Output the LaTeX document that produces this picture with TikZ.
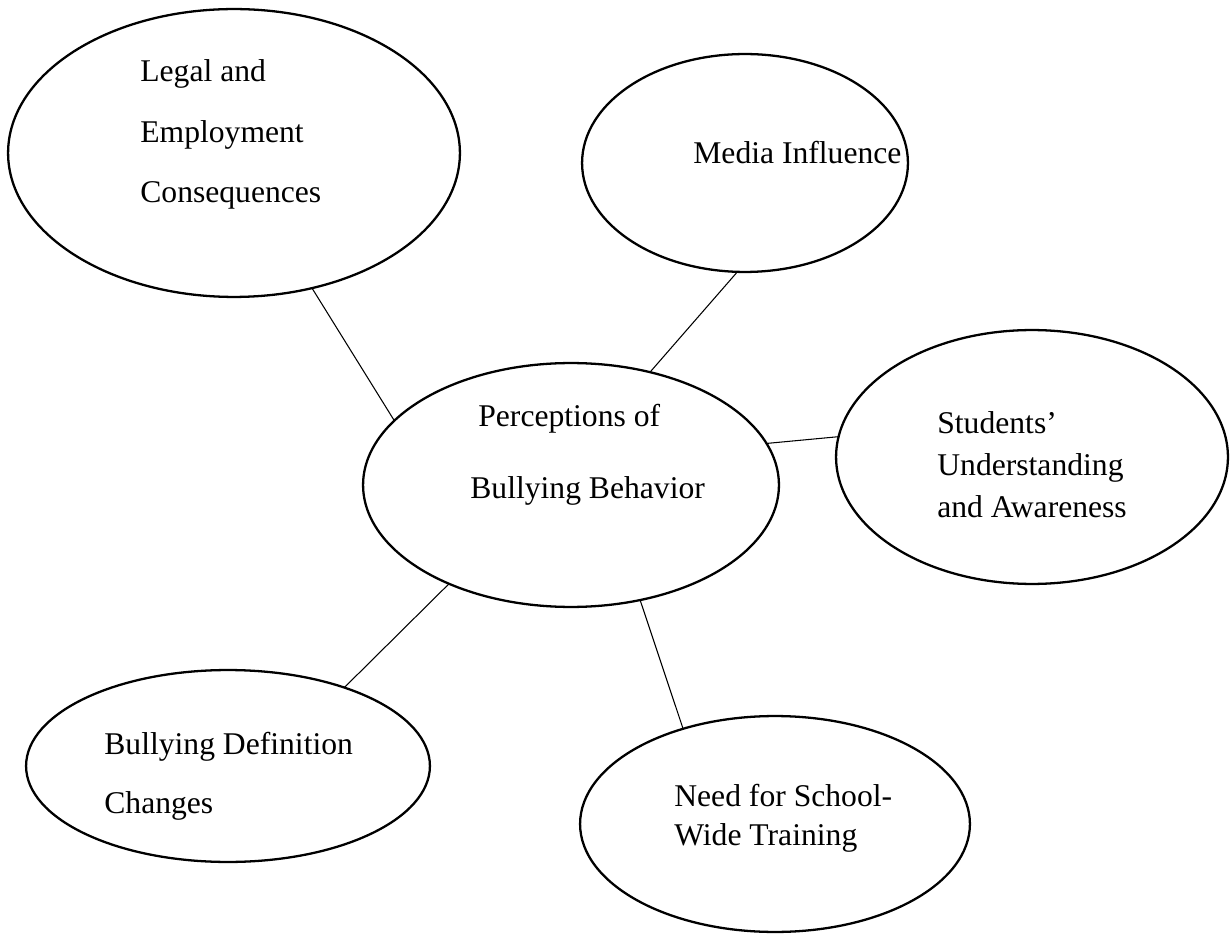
\documentclass[tikz,border=0pt]{standalone}
\usepackage{fontspec}
\setmainfont{Liberation Serif}
\usetikzlibrary{shapes.geometric}

\begin{document}
\begin{tikzpicture}[x=0.02cm,y=-0.02cm,
		bubble/.style 2 args={draw,ellipse,line width=1.3pt,inner sep=0pt,outer sep=0pt,minimum width=#1*0.04cm,minimum height=#2*0.04cm},
		lbl/.style={anchor=base west,align=left,inner sep=0pt,font=\fontsize{18}{#1}\selectfont},
		link/.style={line width=0.6pt}]
		\useasboundingbox (0,0) rectangle (1230,935);
		% bubbles
		\node[bubble={226}{144}] (legal) at (234,153) {};
		\node[bubble={163}{109}] (media) at (745,163) {};
		\node[bubble={208}{122}] (percep) at (571,485) {};
		\node[bubble={196}{127}] (aware) at (1032,457) {};
		\node[bubble={202}{96}] (defn) at (228,766) {};
		\node[bubble={195}{108}] (train) at (775,824) {};
		% texts (anchored at the baseline of the last line)
		\node[lbl=34.6pt] (legaltxt) at (140,203) {Legal and\\Employment\\Consequences};
		\node[lbl=18pt] (mediatxt) at (693,164) {Media Influence};
		\node[lbl=18pt] (percep1) at (478,427) {Perceptions of};
		\node[lbl=18pt] (percep2) at (470,499) {Bullying Behavior};
		\node[lbl=24.1pt] (awaretxt) at (937,518) {Students'\\Understanding\\and Awareness};
		\node[lbl=33.5pt] (defntxt) at (104,813) {Bullying Definition\\Changes};
		\node[lbl=22.1pt] (traintxt) at (674,845) {Need for School-\\Wide Training};
		% links
		\draw[link] (legal.-60.7) -- (percep.160.8);
		\draw[link] (media.-94.7) -- (percep.55.1);
		\draw[link] (percep.12.8) -- (aware.174.4);
		\draw[link] (percep.219) -- (defn.34.1);
		\draw[link] (percep.-59.3) -- (train.134.7);
	\end{tikzpicture}
\end{document}
